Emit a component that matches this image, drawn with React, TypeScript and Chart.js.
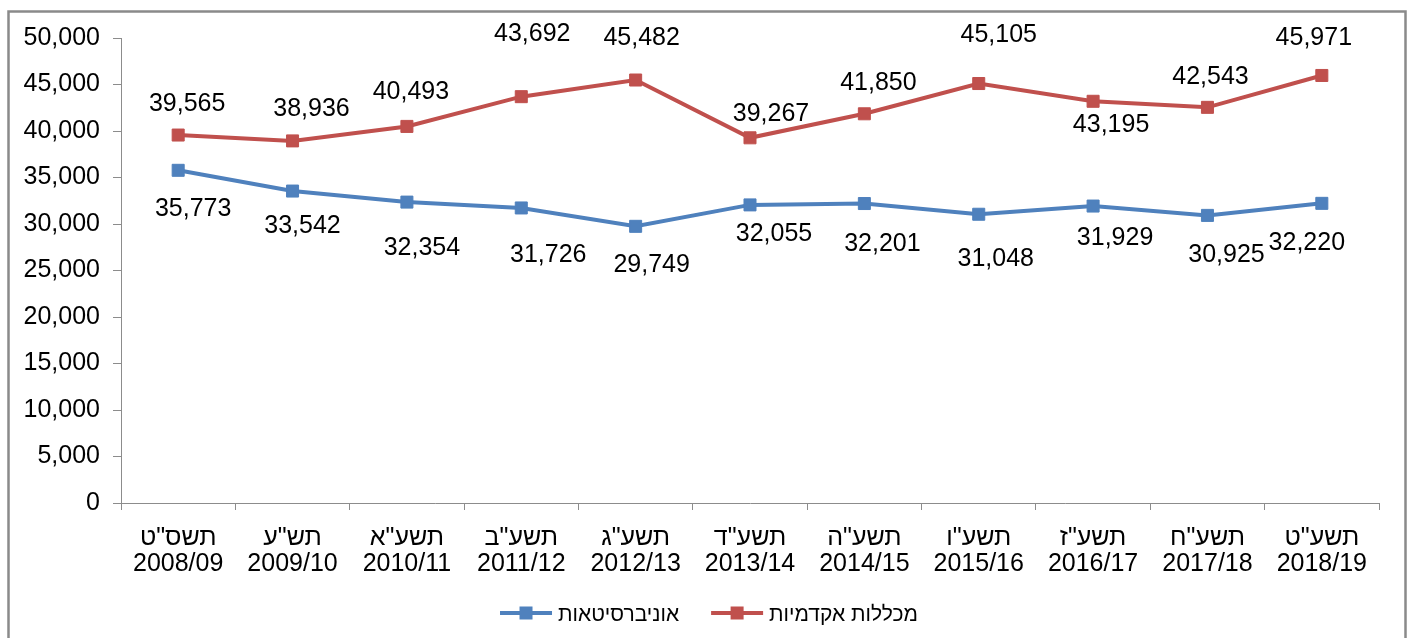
import React, { useEffect, useRef } from "react";
import { Chart, registerables } from "chart.js";

Chart.register(...registerables);

const hebrewYears = ['תשס"ט', 'תש"ע', 'תשע"א', 'תשע"ב', 'תשע"ג', 'תשע"ד', 'תשע"ה', 'תשע"ו', 'תשע"ז', 'תשע"ח', 'תשע"ט'];
const academicYears = ["2008/09", "2009/10", "2010/11", "2011/12", "2012/13", "2013/14", "2014/15", "2015/16", "2016/17", "2017/18", "2018/19"];

const universitiesLabel = "אוניברסיטאות";
const collegesLabel = "מכללות אקדמיות";

const universities = [35773, 33542, 32354, 31726, 29749, 32055, 32201, 31048, 31929, 30925, 32220];
const colleges = [39565, 38936, 40493, 43692, 45482, 39267, 41850, 45105, 43195, 42543, 45971];

const yMin = 0;
const yMax = 50000;
const yStep = 5000;

// label placement (dx, dy) relative to each point
const universitiesLabelOffsets = [[15, 38], [10, 34], [15, 45], [27, 46], [16, 38], [24, 28], [18, 40], [17, 44], [22, 31], [19, 39], [-15, 39]];
const collegesLabelOffsets = [[9, -32], [19, -33], [4, -35], [11, -64], [6, -43], [21, -25], [14, -32], [20, -49], [18, 23], [3, -31], [-8, -38]];

const BLUE = "#4F81BD";
const RED = "#C0504D";
const AXIS = "#8c8c8c";
const FONT = "'Liberation Sans', Arial, sans-serif";

const fmt = (v: number) => v.toLocaleString("en-US");

const framePlugin = {
  id: "frame",
  beforeDraw(chart: any) {
    const ctx = chart.ctx;
    ctx.save();
    ctx.fillStyle = "#ffffff";
    ctx.fillRect(0, 0, chart.width, chart.height);
    ctx.strokeStyle = "#8a8a8a";
    ctx.lineWidth = 2.5;
    ctx.strokeRect(8.5, 11.5, 1397, 640);
    ctx.restore();
  },
};

const labelPlugin = {
  id: "pointLabels",
  afterDatasetsDraw(chart: any) {
    const ctx = chart.ctx;
    const offsets = [universitiesLabelOffsets, collegesLabelOffsets];
    ctx.save();
    ctx.font = `25px ${FONT}`;
    ctx.fillStyle = "#000000";
    ctx.textAlign = "center";
    ctx.textBaseline = "middle";
    chart.data.datasets.forEach((ds: any, di: number) => {
      const meta = chart.getDatasetMeta(di);
      meta.data.forEach((pt: any, i: number) => {
        const [dx, dy] = offsets[di][i];
        ctx.fillText(fmt(ds.data[i]), pt.x + dx, pt.y + dy + 1);
      });
    });
    ctx.restore();
  },
};

const legendPlugin = {
  id: "customLegend",
  afterDraw(chart: any) {
    const ctx = chart.ctx;
    ctx.save();
    ctx.font = `21px ${FONT}`;
    ctx.textBaseline = "middle";
    ctx.textAlign = "left";
    const cy = 613;
    const symW = 52;
    const gapSym = 6;
    const gapItem = 32;
    const items = chart.data.datasets.map((ds: any) => ({
      text: ds.label,
      color: ds.borderColor,
      w: ctx.measureText(ds.label).width,
    }));
    const total = items.reduce((s: number, it: any, i: number) => s + symW + gapSym + it.w + (i > 0 ? gapItem : 0), 0);
    let x = 709 - total / 2;
    items.forEach((it: any, i: number) => {
      if (i > 0) x += gapItem;
      ctx.strokeStyle = it.color;
      ctx.lineWidth = 4;
      ctx.beginPath();
      ctx.moveTo(x, cy);
      ctx.lineTo(x + symW, cy);
      ctx.stroke();
      ctx.fillStyle = it.color;
      ctx.fillRect(x + symW / 2 - 6.5, cy - 6.5, 13, 13);
      x += symW + gapSym;
      ctx.fillStyle = "#000000";
      ctx.fillText(it.text, x, cy + 2);
      x += it.w;
    });
    ctx.restore();
  },
};

export default function App() {
  const canvasRef = useRef<HTMLCanvasElement | null>(null);

  useEffect(() => {
    document.body.style.margin = "0";
    const canvas = canvasRef.current;
    if (!canvas) return;
    const labels = hebrewYears.map((h, i) => [h, academicYears[i]]);
    const chart = new Chart(canvas, {
      type: "line",
      data: {
        labels,
        datasets: [
          {
            label: universitiesLabel,
            data: universities,
            borderColor: BLUE,
            backgroundColor: BLUE,
            borderWidth: 4,
            pointStyle: "rect",
            pointRadius: 8.5,
            pointBorderWidth: 1,
            pointBackgroundColor: BLUE,
            pointBorderColor: BLUE,
            tension: 0,
          },
          {
            label: collegesLabel,
            data: colleges,
            borderColor: RED,
            backgroundColor: RED,
            borderWidth: 4,
            pointStyle: "rect",
            pointRadius: 8.5,
            pointBorderWidth: 1,
            pointBackgroundColor: RED,
            pointBorderColor: RED,
            tension: 0,
          },
        ],
      },
      options: {
        responsive: false,
        animation: false,
        devicePixelRatio: 1,
        layout: { padding: { left: 0, right: 33, top: 38, bottom: 65 } },
        plugins: {
          legend: { display: false },
          tooltip: { enabled: false },
        },
        scales: {
          x: {
            type: "category",
            offset: true,
            grid: { offset: true, drawOnChartArea: false, drawTicks: true, tickLength: 7, color: AXIS },
            border: { display: true, color: AXIS, width: 1 },
            ticks: {
              autoSkip: false,
              maxRotation: 0,
              minRotation: 0,
              padding: 15,
              color: "#000000",
              font: { family: FONT, size: 25, lineHeight: 1.04 },
            },
            afterFit: (scale: any) => {
              scale.height = 70;
            },
          },
          y: {
            min: yMin,
            max: yMax,
            ticks: {
              stepSize: yStep,
              padding: 13,
              color: "#000000",
              font: { family: FONT, size: 25 },
              callback: (v: any) => fmt(Number(v)),
            },
            grid: { drawOnChartArea: false, drawTicks: true, tickLength: 8, color: AXIS },
            border: { display: true, color: AXIS, width: 1 },
            afterFit: (scale: any) => {
              scale.width = 121;
            },
          },
        },
      },
      plugins: [framePlugin, labelPlugin, legendPlugin],
    });
    return () => chart.destroy();
  }, []);

  return (
    <div style={{ width: 1412, height: 638 }}>
      <canvas ref={canvasRef} width={1412} height={638} style={{ display: "block", width: 1412, height: 638 }} />
    </div>
  );
}
